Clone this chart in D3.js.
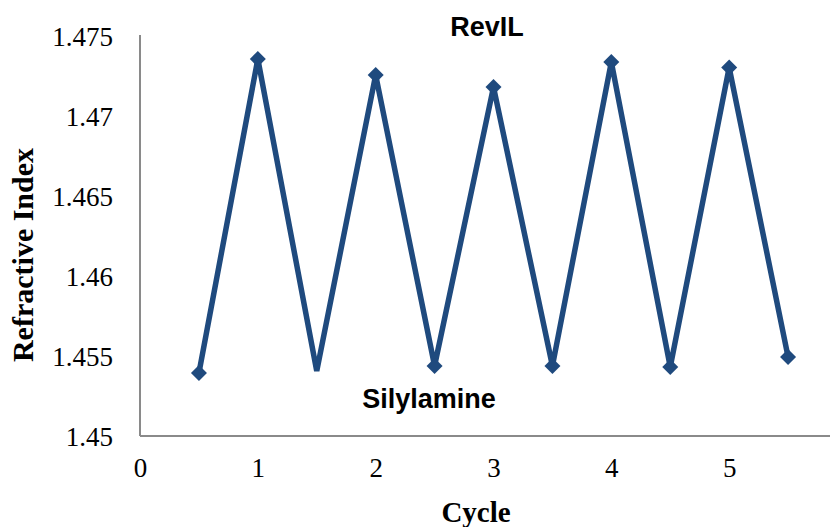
<!DOCTYPE html>
<html>
<head>
<meta charset="utf-8">
<script src="https://cdn.jsdelivr.net/npm/d3@7"></script>
<style>
  body { margin: 0; background: #fff; }
  svg { display: block; }
  .tick text { font-family: "Liberation Serif", "Times New Roman", serif; font-size: 27px; fill: #000; }
  .axis-title { font-family: "Liberation Serif", "Times New Roman", serif; font-size: 29px; font-weight: bold; fill: #000; }
  .note { font-family: "Liberation Sans", Arial, sans-serif; font-size: 27px; font-weight: bold; fill: #000; }
</style>
</head>
<body>
<div id="chart"></div>
<script>
// values
const cycles = [0.5, 1, 1.5, 2, 2.5, 3, 3.5, 4, 4.5, 5, 5.5]
const refractive = [1.45394, 1.47356, 1.45406, 1.47256, 1.45438, 1.47181, 1.45438, 1.47338, 1.45431, 1.47303, 1.45494]
const noMarkerAt = [1.5]   // marker at this cycle is not drawn in the original
const xTicks = [0, 1, 2, 3, 4, 5]
const yTicks = [1.45, 1.455, 1.46, 1.465, 1.47, 1.475]
const yLabels = ['1.45', '1.455', '1.46', '1.465', '1.47', '1.475']

const width = 830
const height = 527
const lineColor = '#1f4a7e'
const axisColor = '#8a8a8a'

const svg = d3.select('#chart')
  .append('svg')
  .attr('width', width)
  .attr('height', height)

const x = d3.scaleLinear().domain([0, 6]).range([140, 847])
const y = d3.scaleLinear().domain([1.45, 1.475]).range([436, 36])

// y axis
const yAxis = svg.append('g')
  .attr('transform', `translate(${x(0)},0)`)
  .call(d3.axisLeft(y).tickValues(yTicks).tickFormat((d, i) => yLabels[i]).tickSize(0).tickPadding(27))
yAxis.select('.domain').remove()
yAxis.selectAll('.tick text').attr('dy', '0.35em')

// x axis
const xAxis = svg.append('g')
  .attr('transform', `translate(0,${y(1.45)})`)
  .call(d3.axisBottom(x).tickValues(xTicks).tickFormat(d3.format('d')).tickSize(0).tickPadding(22))
xAxis.select('.domain').remove()

// axis lines
svg.append('line')
  .attr('x1', x(0)).attr('x2', x(0))
  .attr('y1', 35).attr('y2', y(1.45))
  .attr('stroke', axisColor).attr('stroke-width', 2)
svg.append('line')
  .attr('x1', x(0)).attr('x2', width)
  .attr('y1', y(1.45)).attr('y2', y(1.45))
  .attr('stroke', axisColor).attr('stroke-width', 2)

const pts = cycles.map((c, i) => ({ c, v: refractive[i] }))

svg.append('path')
  .datum(pts)
  .attr('fill', 'none')
  .attr('stroke', lineColor)
  .attr('stroke-width', 5.5)
  .attr('stroke-linejoin', 'miter')
  .attr('d', d3.line().x(d => x(d.c)).y(d => y(d.v)))

const diamond = d3.symbol().type(d3.symbolSquare).size(128)
svg.append('g')
  .selectAll('path')
  .data(pts.filter(d => !noMarkerAt.includes(d.c)))
  .join('path')
    .attr('d', diamond)
    .attr('fill', lineColor)
    .attr('transform', d => `translate(${x(d.c)},${y(d.v)}) rotate(45)`)

// titles
svg.append('text')
  .attr('class', 'axis-title')
  .attr('x', 476).attr('y', 522)
  .attr('text-anchor', 'middle')
  .text('Cycle')

svg.append('text')
  .attr('class', 'axis-title')
  .attr('transform', 'translate(33,255) rotate(-90)')
  .attr('text-anchor', 'middle')
  .style('font-size', '30px')
  .text('Refractive Index')

svg.append('text')
  .attr('class', 'note')
  .attr('x', 487).attr('y', 36)
  .attr('text-anchor', 'middle')
  .text('RevIL')

svg.append('text')
  .attr('class', 'note')
  .attr('x', 429).attr('y', 408)
  .attr('text-anchor', 'middle')
  .text('Silylamine')
</script>
</body>
</html>
